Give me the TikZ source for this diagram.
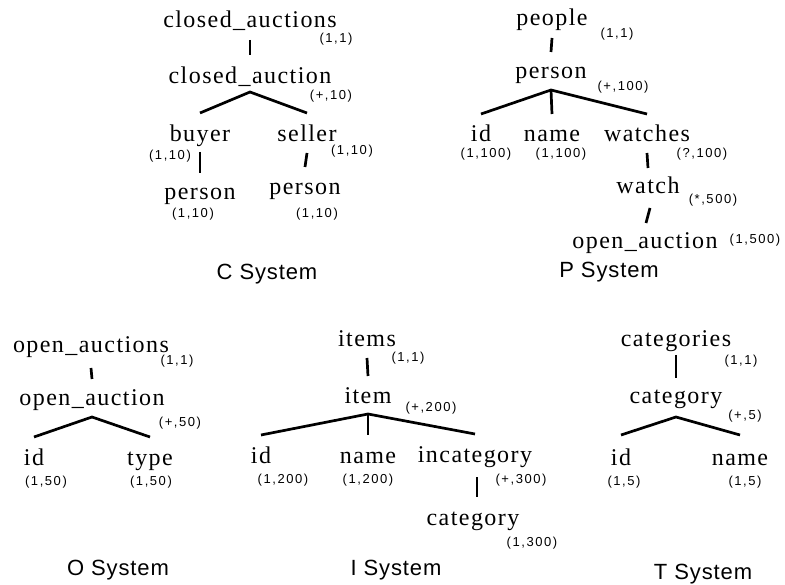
\documentclass[tikz,border=0pt]{standalone}
\usepackage{fontspec}
\newfontfamily\elemfont{Liberation Serif}[LetterSpace=6]
\newfontfamily\cardfont{Liberation Sans}[LetterSpace=12]
\newfontfamily\sysfont{Liberation Sans}[LetterSpace=4]
\begin{document}
\begin{tikzpicture}[x=1pt,y=-1pt,
  elem/.style={anchor=base,inner sep=0pt,font=\elemfont\fontsize{24}{26}\selectfont},
  card/.style={anchor=base,inner sep=0pt,font=\cardfont\fontsize{13}{15}\selectfont},
  sysname/.style={anchor=base,inner sep=0pt,font=\sysfont\fontsize{22}{24}\selectfont},
  edge/.style={line width=2.7pt}]
\useasboundingbox (0,0) rectangle (785,585);

% ---------------- C System ----------------
\node[elem] (c1) at (250,28) {closed\_auctions};
\node[card] (c1k) at (336,43) {(1,1)};
\node[elem] (c2) at (250,84) {closed\_auction};
\node[card] (c2k) at (331,100) {(+,10)};
\node[elem] (c3) at (200,142) {buyer};
\node[card] (c3k) at (170,160) {(1,10)};
\node[elem] (c4) at (307,142) {seller};
\node[card] (c4k) at (352,155) {(1,10)};
\node[elem] (c5) at (200,200) {person};
\node[card] (c5k) at (193,218) {(1,10)};
\node[elem] (c6) at (305,195) {person};
\node[card] (c6k) at (317,218) {(1,10)};
\node[sysname] (csys) at (267,280) {C System};

\draw[edge] ([yshift=-12pt]c1.base) -- ([yshift=29pt]c2.base);
\coordinate (c2fork) at ([yshift=-8pt]c2.base);
\draw[edge] ([yshift=29pt]c3.base) -- (c2fork) -- ([yshift=29pt]c4.base);
\draw[edge] ([yshift=-10pt]c3.base) -- ([yshift=27pt]c5.base);
\draw[edge] ([yshift=-11pt]c4.base) -- ([yshift=28pt]c6.base);

% ---------------- P System ----------------
\node[elem] (p1) at (552,26) {people};
\node[card] (p1k) at (617,38) {(1,1)};
\node[elem] (p2) at (551,79) {person};
\node[card] (p2k) at (623,91) {(+,100)};
\node[elem] (p3) at (481,142) {id};
\node[card] (p3k) at (486,158) {(1,100)};
\node[elem] (p4) at (552,142) {name};
\node[card] (p4k) at (561,158) {(1,100)};
\node[elem] (p5) at (647,142) {watches};
\node[card] (p5k) at (702,158) {(?,100)};
\node[elem] (p6) at (648,194) {watch};
\node[card] (p6k) at (713,204) {(*,500)};
\node[elem] (p7) at (645,249) {open\_auction};
\node[card] (p7k) at (755,244) {(1,500)};
\node[sysname] (psys) at (609,278) {P System};

\draw[edge] ([yshift=-12pt]p1.base) -- ([yshift=27pt]p2.base);
\coordinate (p2fork) at ([yshift=-11pt]p2.base);
\draw[edge] ([yshift=28pt]p3.base) -- (p2fork) -- ([yshift=28pt]p5.base);
\draw[edge] (p2fork) -- ([yshift=28pt]p4.base);
\draw[edge] ([yshift=-11pt]p5.base) -- ([yshift=26pt]p6.base);
\draw[edge] ([xshift=2pt,yshift=-14pt]p6.base) -- ([xshift=1pt,yshift=26pt]p7.base);

% ---------------- O System ----------------
\node[elem] (o1) at (91,353) {open\_auctions};
\node[card] (o1k) at (177,365) {(1,1)};
\node[elem] (o2) at (92,406) {open\_auction};
\node[card] (o2k) at (180,427) {(+,50)};
\node[elem] (o3) at (34,465) {id};
\node[card] (o3k) at (46,485) {(1,50)};
\node[elem] (o4) at (150,465) {type};
\node[card] (o4k) at (151,485) {(1,50)};
\node[sysname] (osys) at (118,575) {O System};

\draw[edge] ([yshift=-15pt]o1.base) -- ([yshift=27pt]o2.base);
\coordinate (o2fork) at ([yshift=-11pt]o2.base);
\draw[edge] ([yshift=28pt]o3.base) -- (o2fork) -- ([yshift=28pt]o4.base);

% ---------------- I System ----------------
\node[elem] (i1) at (367,347) {items};
\node[card] (i1k) at (408,362) {(1,1)};
\node[elem] (i2) at (368,403) {item};
\node[card] (i2k) at (431,412) {(+,200)};
\node[elem] (i3) at (261,463) {id};
\node[card] (i3k) at (283,483) {(1,200)};
\node[elem] (i4) at (368,463) {name};
\node[card] (i4k) at (368,483) {(1,200)};
\node[elem] (i5) at (475,462) {incategory};
\node[card] (i5k) at (521,483) {(+,300)};
\node[elem] (i6) at (473,525) {category};
\node[card] (i6k) at (532,546) {(1,300)};
\node[sysname] (isys) at (396,575) {I System};

\draw[edge] ([yshift=-11pt]i1.base) -- ([yshift=27pt]i2.base);
\coordinate (i2fork) at ([yshift=-11pt]i2.base);
\draw[edge] ([yshift=28pt]i3.base) -- (i2fork) -- ([yshift=28pt]i5.base);
\draw[edge] (i2fork) -- ([yshift=28pt]i4.base);
\draw[edge] ([xshift=2pt,yshift=-15pt]i5.base) -- ([xshift=4pt,yshift=28pt]i6.base);

% ---------------- T System ----------------
\node[elem] (t1) at (676,347) {categories};
\node[card] (t1k) at (741,365) {(1,1)};
\node[elem] (t2) at (676,404) {category};
\node[card] (t2k) at (745,420) {(+,5)};
\node[elem] (t3) at (621,465) {id};
\node[card] (t3k) at (624,485) {(1,5)};
\node[elem] (t4) at (740,465) {name};
\node[card] (t4k) at (745,485) {(1,5)};
\node[sysname] (tsys) at (703,579) {T System};

\draw[edge] ([yshift=-8pt]t1.base) -- ([yshift=26pt]t2.base);
\coordinate (t2fork) at ([yshift=-13pt]t2.base);
\draw[edge] ([yshift=30pt]t3.base) -- (t2fork) -- ([yshift=30pt]t4.base);
\end{tikzpicture}
\end{document}
